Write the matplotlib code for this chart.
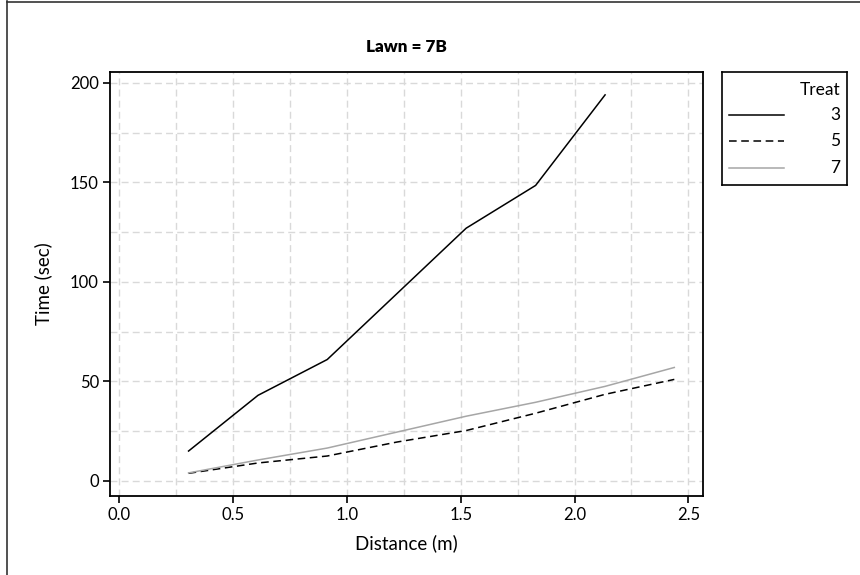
import matplotlib
matplotlib.use("Agg")
import matplotlib.pyplot as plt
from matplotlib.ticker import MultipleLocator
from matplotlib.lines import Line2D

plt.rcParams['font.family'] = ['Lato', 'DejaVu Sans']

# Data
dist_3 = [0.305, 0.61, 0.914, 1.219, 1.524, 1.829, 2.134]
time_3 = [15, 43, 61, 94, 127, 148.5, 194]
dist_5 = [0.305, 0.61, 0.914, 1.219, 1.524, 1.829, 2.134, 2.438]
time_5 = [3.8, 9, 12.5, 19.5, 25.3, 34, 43.5, 51]
dist_7 = [0.305, 0.61, 0.914, 1.219, 1.524, 1.829, 2.134, 2.438]
time_7 = [4, 10.5, 16.5, 24.5, 32.5, 39.5, 47.5, 57]
treat_labels = ['3', '5', '7']
x_ticks = [0.0, 0.5, 1.0, 1.5, 2.0, 2.5]
y_ticks = [0, 50, 100, 150, 200]

fig = plt.figure(figsize=(8.6, 5.75), dpi=100)
ax = fig.add_axes([110/860, 1-496/575, (703-110)/860, (496-72)/575])

styles = [dict(color='black', lw=1.1, ls='-'),
          dict(color='black', lw=1.1, ls=(0, (5, 3))),
          dict(color='#a6a6a6', lw=1.1, ls='-')]
for (xs, ys), st in zip([(dist_3, time_3), (dist_5, time_5), (dist_7, time_7)], styles):
    ax.plot(xs, ys, **st, zorder=3)

ax.set_xlim(-0.04, 2.564)
ax.set_ylim(-7.6, 205.5)
ax.set_xticks(x_ticks)
ax.set_xticklabels([f"{v:.1f}" for v in x_ticks])
ax.set_yticks(y_ticks)
ax.xaxis.set_minor_locator(MultipleLocator(0.25))
ax.yaxis.set_minor_locator(MultipleLocator(25))
ax.tick_params(which='minor', length=0)
ax.tick_params(which='major', direction='out', length=5, width=1.2, labelsize=12, pad=3)
ax.grid(True, which='both', color='#d9d9d9', ls=(0, (5, 3)), lw=1)
ax.set_axisbelow(True)
for sp in ax.spines.values():
    sp.set_linewidth(1.3)

ax.set_xlabel('Distance (m)', fontsize=13.5, va='center')
ax.xaxis.set_label_coords(0.5, (496-543)/424)
ax.set_ylabel('Time (sec)', fontsize=13.5, va='center')
ax.yaxis.set_label_coords((43-110)/593, 0.5)
fig.text(406.5/860, 1-47/575, 'Lawn = 7B', fontsize=12.3, fontweight='heavy',
         ha='center', va='center')

# Legend panel
lax = fig.add_axes([722/860, 1-185/575, (847-722)/860, (185-72)/575])
lax.set_xlim(0, 125)
lax.set_ylim(113, 0)
lax.set_xticks([])
lax.set_yticks([])
for sp in lax.spines.values():
    sp.set_linewidth(1.2)
lax.text(118, 18.5, 'Treat', ha='right', va='center', fontsize=12.5)
for i, (lab, st) in enumerate(zip(treat_labels, styles)):
    yy = 43 + i * 26.5
    lax.add_line(Line2D([7, 62], [yy, yy], **st))
    lax.text(118, yy, lab, ha='right', va='center', fontsize=12.5)

# Outer frame (left and top edges)
fig.add_artist(Line2D([7/860, 7/860], [0, 1-1/575], color='#333333', lw=1.2, transform=fig.transFigure))
fig.add_artist(Line2D([7/860, 1], [1-1.5/575, 1-1.5/575], color='#333333', lw=1.2, transform=fig.transFigure))

fig.savefig('out.png', dpi=100)
